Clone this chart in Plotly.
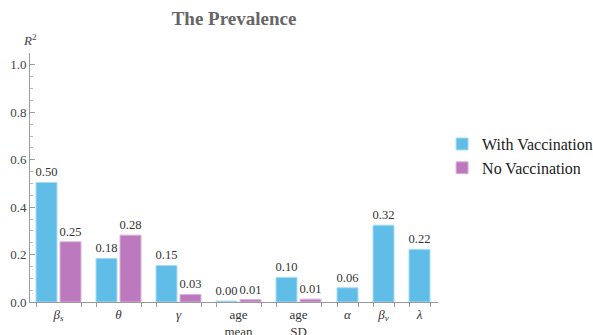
import plotly.graph_objects as go

# Parameter names (tick labels) and R^2 values per scenario
param_labels = ["<i>β</i><sub><i>s</i></sub>", "<i>θ</i>", "<i>γ</i>", "age<br>mean", "age<br>SD",
                "<i>α</i>", "<i>β</i><sub><i>v</i></sub>", "<i>λ</i>"]
with_vacc = [0.504, 0.184, 0.154, 0.004, 0.104, 0.060, 0.324, 0.222]
no_vacc = [0.254, 0.282, 0.032, 0.010, 0.012, None, None, None]

BLUE = "#60BDE8"
PURPLE = "#BD79BE"
SERIF = "Liberation Serif"

# Bar geometry in axis units (1 unit = 1 px of plot width)
BAR_W = 21
PAIR_GAP = 3
GROUP_PITCH = 60
SINGLE_PITCH = 36
START = 6

blue_x, purple_x, centers, edges = [], [], [], []
pos = START
for i, (a, b) in enumerate(zip(with_vacc, no_vacc)):
    if b is not None:
        blue_x.append(pos + BAR_W / 2)
        purple_x.append(pos + BAR_W + PAIR_GAP + BAR_W / 2)
        width = 2 * BAR_W + PAIR_GAP
        centers.append(pos + width / 2)
        edges += [pos, pos + width]
        nxt = pos + GROUP_PITCH
    else:
        blue_x.append(pos + BAR_W / 2)
        purple_x.append(None)
        centers.append(pos + BAR_W / 2)
        edges += [pos, pos + BAR_W]
        nxt = pos + SINGLE_PITCH
    if i + 1 < len(with_vacc) and no_vacc[i] is not None and no_vacc[i + 1] is None:
        nxt = pos + GROUP_PITCH + 1
    pos = nxt

px_ = [x for x, v in zip(purple_x, no_vacc) if v is not None]
pv = [v for v in no_vacc if v is not None]

label_font = dict(family=SERIF, size=12.5, color="#333333")

fig = go.Figure()
fig.add_trace(go.Bar(
    x=blue_x, y=with_vacc, width=BAR_W, name="With Vaccination",
    marker=dict(color=BLUE, line=dict(color="#A9DDF5", width=1)),
    text=with_vacc, texttemplate="%{y:.2f}", textposition="outside",
    constraintext="none", cliponaxis=False, textfont=label_font,
))
fig.add_trace(go.Bar(
    x=px_, y=pv, width=BAR_W, name="No Vaccination",
    marker=dict(color=PURPLE, line=dict(color="#DDB3DE", width=1)),
    text=pv, texttemplate="%{y:.2f}", textposition="outside",
    constraintext="none", cliponaxis=False, textfont=label_font,
))

fig.update_layout(
    width=593, height=335,
    margin=dict(l=30, r=155, t=53, b=33, autoexpand=False),
    paper_bgcolor="white", plot_bgcolor="white",
    barmode="overlay",
    showlegend=True,
    legend=dict(x=1.01, y=0.586, xanchor="left", yanchor="middle",
                font=dict(family=SERIF, size=16, color="#222222"),
                tracegroupgap=2, itemwidth=30),
    title=dict(text="<b>The Prevalence</b>", x=0.5, xref="paper", xanchor="center",
               y=1 - 18 / 335, yanchor="middle",
               font=dict(family=SERIF, size=19, color="#666666")),
    xaxis=dict(
        range=[0, 408], showgrid=False, zeroline=False, automargin=False,
        showline=True, linecolor="#9A9A9A", linewidth=1,
        tickmode="array", tickvals=centers, ticktext=param_labels,
        ticks="", tickfont=dict(family=SERIF, size=13, color="#333333"),
        minor=dict(tickmode="array", tickvals=edges, ticks="outside",
                   ticklen=4, tickcolor="#9A9A9A", showgrid=False),
    ),
    yaxis=dict(
        range=[0, 1.05], showgrid=False, zeroline=False, automargin=False,
        showline=True, linecolor="#9A9A9A", linewidth=1,
        tickmode="array", tickvals=[0, 0.2, 0.4, 0.6, 0.8, 1.0],
        ticktext=["0.0", "0.2", "0.4", "0.6", "0.8", "1.0"],
        ticks="inside", ticklen=5, tickcolor="#9A9A9A",
        tickfont=dict(family=SERIF, size=13, color="#444444"),
        minor=dict(dtick=0.05, tick0=0, ticks="inside", ticklen=3,
                   tickcolor="#BBBBBB", showgrid=False),
    ),
    annotations=[dict(text="<i>R</i><sup>2</sup>", xref="paper", yref="paper",
                      x=0, y=1.0, xanchor="center", yanchor="bottom", yshift=3,
                      showarrow=False,
                      font=dict(family=SERIF, size=13, color="#444444"))],
)

fig.write_html("out.html")
